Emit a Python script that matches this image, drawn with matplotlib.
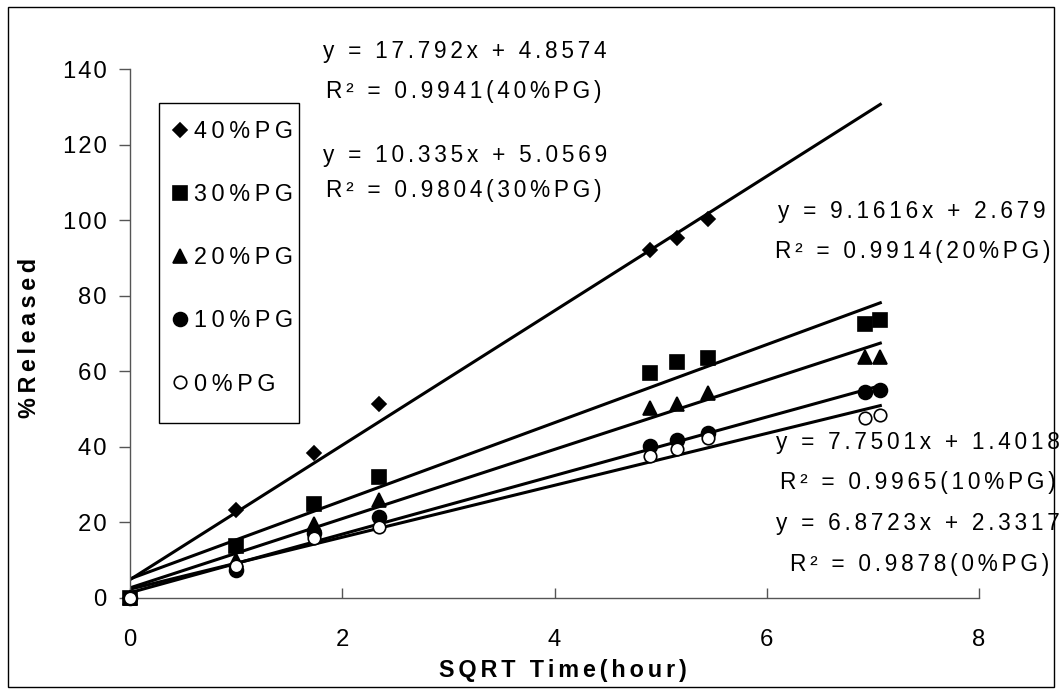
import matplotlib
matplotlib.use("Agg")
import matplotlib.pyplot as plt
from matplotlib.patches import Rectangle
import numpy as np

plt.rcParams['font.family'] = ['Liberation Sans', 'DejaVu Sans']

x = [0, 1, 1.73, 2.35, 4.90, 5.15, 5.45, 6.93, 7.07]
pg40 = [0, 23.3, 38.4, 51.3, 92.1, 95.3, 100.4]
pg30 = [0, 13.8, 24.9, 32.0, 59.5, 62.4, 63.5, 72.5, 73.5]
pg20 = [0, 10.0, 19.6, 25.9, 50.3, 51.4, 54.2, 63.8, 63.8]
pg10 = [0, 7.4, 17.2, 21.4, 40.2, 41.8, 43.6, 54.5, 55.0]
pg0 = [0, 8.5, 16.0, 18.8, 37.6, 39.4, 42.3, 47.6, 48.4]
xticks = [0, 2, 4, 6, 8]
yticks = [0, 20, 40, 60, 80, 100, 120, 140]

series = [
    ("40%PG", pg40, 'D', 'black', 17.792, 4.8574),
    ("30%PG", pg30, 's', 'black', 10.335, 5.0569),
    ("20%PG", pg20, '^', 'black', 9.1616, 2.679),
    ("10%PG", pg10, 'o', 'black', 7.7501, 1.4018),
    ("0%PG", pg0, 'o', 'white', 6.8723, 2.3317),
]
equations = ["y = 17.792x + 4.8574", "y = 10.335x + 5.0569", "y = 9.1616x + 2.679",
             "y = 7.7501x + 1.4018", "y = 6.8723x + 2.3317"]
r2 = ["R² = 0.9941(40%PG)", "R² = 0.9804(30%PG)", "R² = 0.9914(20%PG)",
      "R² = 0.9965(10%PG)", "R² = 0.9878(0%PG)"]
msizes = {'D': 7.5, 's': 10.5, '^': 10.5, 'o': 10}

TS = '\u2009'   # thin space
SS = '\u2006'   # six-per-em space
HS = '\u200a'   # hair space


def sp(s, sep=SS):
    return sep.join(s)


W, H = 1063, 693
FS = 16.3
fig = plt.figure(figsize=(W / 100, H / 100), dpi=100)
ax = fig.add_axes([130 / W, (H - 598) / H, (979 - 130) / W, (598 - 69) / H])

handles = []
for name, ys, m, fc, slope, icpt in series:
    xs = np.array([0, x[-1]])
    ax.plot(xs, slope * xs + icpt, color='black', lw=2.2, zorder=2)
    ms = msizes[m] if fc == 'black' else 9
    h, = ax.plot(x[:len(ys)], ys, linestyle='none', marker=m, markersize=ms,
                 markerfacecolor=fc, markeredgecolor='black', markeredgewidth=1.2, zorder=3,
                 clip_on=False, label=sp(name, TS))
    handles.append(h)

ax.set_xlim(0, 8)
ax.set_ylim(0, 140)
ax.set_xticks(xticks)
ax.set_xticklabels([str(v) for v in xticks])
ax.set_yticks(yticks)
ax.set_yticklabels([sp(str(v), HS) for v in yticks])
for s in ['top', 'right']:
    ax.spines[s].set_visible(False)
for s in ['left', 'bottom']:
    ax.spines[s].set_color('#555555')
    ax.spines[s].set_linewidth(1)
ax.tick_params(axis='y', direction='out', length=8, width=1, color='#555555', labelsize=17.2, pad=9)
ax.tick_params(axis='x', direction='in', length=7, width=1, color='#555555', labelsize=17.2, pad=22)

leg = fig.legend(handles=handles, loc='upper left', bbox_to_anchor=(172.5 / W, 1 - 120 / H),
                 frameon=False, fontsize=16.8, handlelength=0.6, handletextpad=0.3,
                 labelspacing=1.72, borderpad=0, borderaxespad=0, markerscale=1.0)

fig.patches.append(Rectangle((159 / W, 1 - 423 / H), 140 / W, 320 / H,
                             transform=fig.transFigure, fill=False, edgecolor='black', lw=1))

fig.text(563 / W, 1 - 671 / H, sp("SQRT Time(hour)"), ha='center', va='center',
         fontsize=16.8, fontweight='bold')
fig.text(30 / W, 1 - 338 / H, sp("%Released", TS), ha='center', va='center',
         fontsize=16.8, fontweight='bold', rotation=90)


def ftxt(px, py, s):
    fig.text(px / W, 1 - py / H, sp(s), ha='center', va='baseline', fontsize=FS)


ftxt(465, 58, equations[0])
ftxt(464, 98, r2[0])
ftxt(465, 162, equations[1])
ftxt(464, 197, r2[1])
ftxt(912, 218, equations[2])
ftxt(913, 258, r2[2])
ftxt(918, 449, equations[3])
ftxt(918, 489, r2[3])
ftxt(918, 530, equations[4])
ftxt(920, 571, r2[4])

fig.patches.append(Rectangle((8 / W, 1 - 687 / H), (1054 - 8) / W, (687 - 7) / H,
                             transform=fig.transFigure, fill=False, edgecolor='black', lw=1))

fig.savefig("out.png", dpi=100)
